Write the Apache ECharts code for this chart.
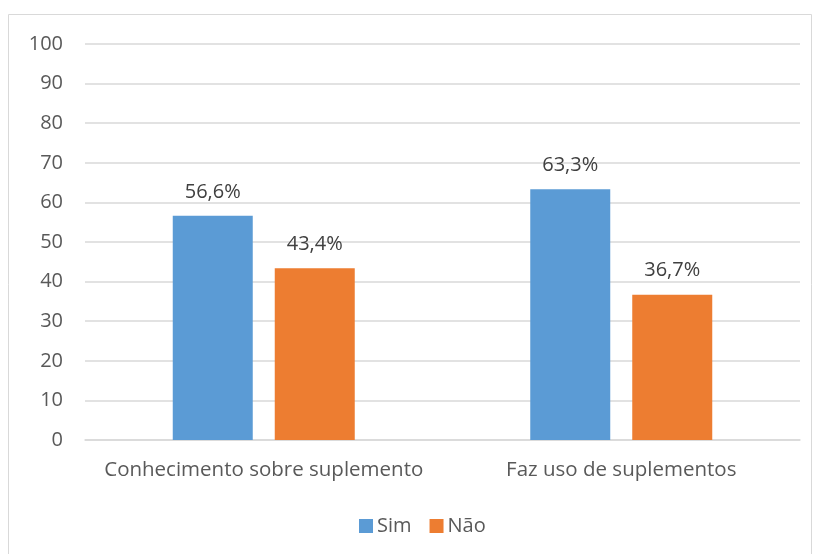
<!DOCTYPE html>
<html><head><meta charset="utf-8">
<script src="https://cdn.jsdelivr.net/npm/echarts@6/dist/echarts.min.js"></script>
<style>html,body{margin:0;padding:0;background:#fff}#c{width:817px;height:554px}</style>
</head><body><div id="c"></div>
<script>
const categories = ["Conhecimento sobre suplemento", "Faz uso de suplementos"];
const simValues = [56.6, 63.3];
const naoValues = [43.4, 36.7];
const seriesNames = ["Sim", "Não"];
const FONT = "Open Sans";
const chart = echarts.init(document.getElementById('c'));
const lbl = {
  show: true, position: 'top', distance: 14, color: '#404040', fontSize: 20, fontFamily: FONT,
  formatter: p => p.value.toFixed(1).replace('.', ',') + '%'
};
chart.setOption({
  animation: false,
  textStyle: { fontFamily: FONT },
  graphic: [{ type: 'rect', shape: { x: 8.5, y: 14.5, width: 803, height: 560 }, style: { fill: 'none', stroke: '#d9d9d9', lineWidth: 1 } }],
  grid: { left: 85, right: 17, top: 44, bottom: 114 },
  legend: {
    bottom: 18, left: 359, itemWidth: 14, itemHeight: 14, itemGap: 18, padding: 0,
    icon: 'rect', textStyle: { color: '#595959', fontSize: 20, fontFamily: FONT, padding: [0, 0, 0, -1] },
    data: seriesNames
  },
  xAxis: {
    type: 'category', data: categories,
    axisLine: { lineStyle: { color: '#d9d9d9', width: 1.5 } }, axisTick: { show: false },
    axisLabel: { color: '#595959', fontSize: 20.5, fontFamily: FONT, margin: 20, interval: 0 }
  },
  yAxis: {
    type: 'value', min: 0, max: 100, interval: 10,
    axisLine: { show: false }, axisTick: { show: false },
    splitLine: { lineStyle: { color: '#d9d9d9', width: 1.5 } },
    axisLabel: { color: '#595959', fontSize: 20, fontFamily: FONT, margin: 22 }
  },
  series: [
    { name: seriesNames[0], type: 'bar', data: simValues, barWidth: 80, barGap: '27.5%', itemStyle: { color: '#5b9bd5' }, label: lbl },
    { name: seriesNames[1], type: 'bar', data: naoValues, barWidth: 80, itemStyle: { color: '#ed7d31' }, label: lbl }
  ]
});
</script></body></html>
